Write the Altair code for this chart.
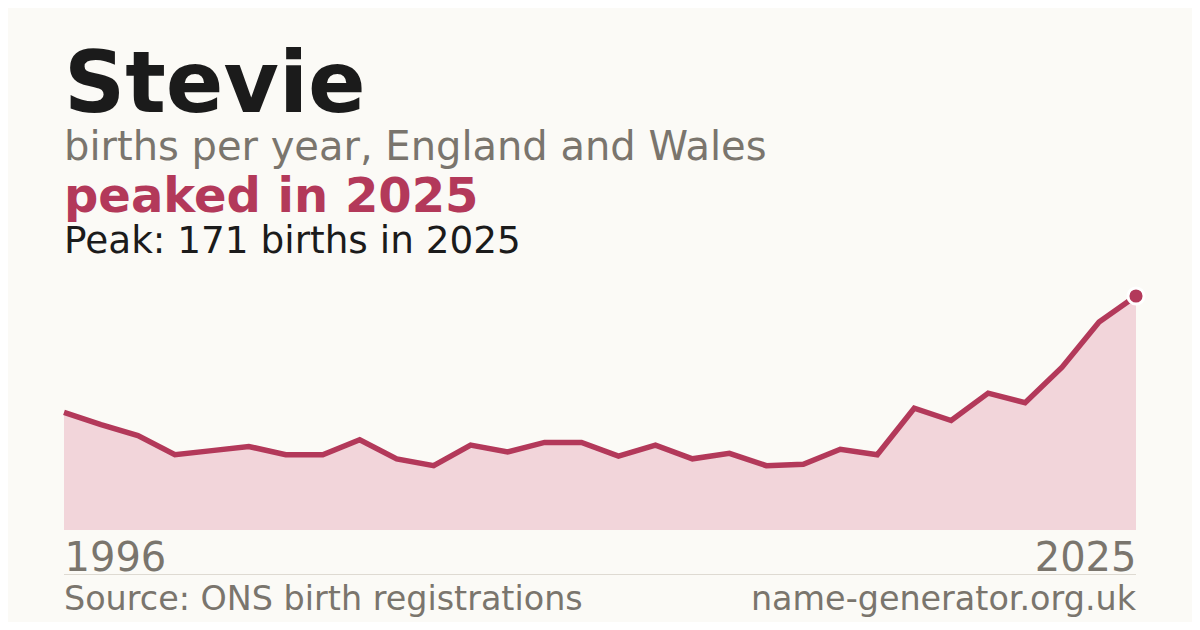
import altair as alt
import pandas as pd

years = list(range(1996, 2026))
births = [86, 77, 69, 55, 58, 61, 55, 55, 66, 52,
          47, 62, 57, 64, 64, 54, 62, 52, 56, 47,
          48, 59, 55, 89, 80, 100, 93, 119, 152, 171]
tick_years = [1996, 2025]

title_text = "Stevie"
subtitle_text = "births per year, England and Wales"
headline_text = "peaked in 2025"
peak_text = "Peak: 171 births in 2025"
source_text = "Source: ONS birth registrations"
site_text = "name-generator.org.uk"

RED = "#b3395a"
GRAY = "#7a756d"
DARK = "#1b1b1b"
BG = "#fbfaf6"
FONT = "DejaVu Sans"

W, H = 1072, 234

df = pd.DataFrame({"year": years, "births": births})
peak_df = df[df["births"] == max(births)]

x = alt.X("year:Q", scale=alt.Scale(domain=[1996, 2025], nice=False, zero=False),
          axis=alt.Axis(values=tick_years, format="d", title=None, grid=False,
                        domain=False, ticks=False, labelFlush=True,
                        labelFontSize=40, labelColor=GRAY, labelFont=FONT,
                        labelBaseline="alphabetic", labelPadding=40))
y = alt.Y("births:Q", scale=alt.Scale(domain=[0, 171], nice=False), axis=None)

base = alt.Chart(df)
area = base.mark_area(color="#f2d5da").encode(x=x, y=y)
line = base.mark_line(color=RED, strokeWidth=5.5, strokeJoin="miter").encode(x=x, y=y)
point = alt.Chart(peak_df).mark_point(filled=True, color=RED, size=260,
                                      stroke="white", strokeWidth=3, opacity=1,
                                      strokeOpacity=1).encode(x=x, y=y)


def txt(s, xp, yp, size, color, weight="normal", align="left"):
    return alt.Chart(pd.DataFrame({"t": [s]})).mark_text(
        font=FONT, fontSize=size, color=color, fontWeight=weight,
        align=align, baseline="alphabetic"
    ).encode(text="t:N", x=alt.value(xp), y=alt.value(yp))


rule = alt.Chart(pd.DataFrame({"a": [0]})).mark_rule(color="#dedad2", strokeWidth=1).encode(
    x=alt.value(0), x2=alt.value(W), y=alt.value(278.5))

chart = alt.layer(
    area, line, point,
    txt(title_text, 0, -184, 85, DARK, "bold"),
    txt(subtitle_text, 0, -136, 40, GRAY),
    txt(headline_text, 0, -84, 48, RED, "bold"),
    txt(peak_text, 0, -43, 37.4, DARK),
    rule,
    txt(source_text, 0, 314, 33.4, GRAY),
    txt(site_text, W, 314, 33.4, GRAY, align="right"),
).properties(
    width=W, height=H,
    autosize=alt.AutoSizeParams(type="none"),
    padding={"left": 56, "top": 288, "right": 56, "bottom": 92},
    background=BG,
).configure_view(stroke=None)

chart.save("out.html", embed_options={"renderer": "svg", "actions": False})
